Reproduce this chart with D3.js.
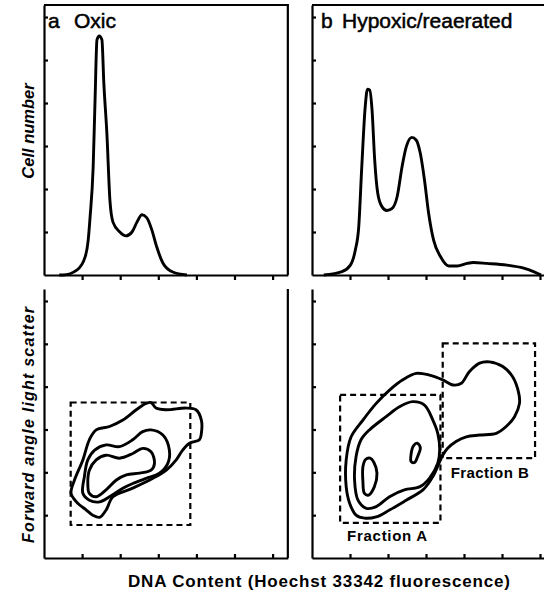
<!DOCTYPE html>
<html>
<head>
<meta charset="utf-8">
<script src="https://cdn.jsdelivr.net/npm/d3@7"></script>
<style>
  body { margin: 0; background: #fff; }
  svg { display: block; background: #fff; }
  .axis path, .axis line { stroke: #000; stroke-width: 2.2; }
  .frame { stroke: #000; stroke-width: 2.2; fill: none; }
  .curve { fill: none; stroke: #000; stroke-width: 2.9; stroke-linejoin: round; }
  .box { fill: none; stroke: #000; stroke-width: 2.2; stroke-dasharray: 6 4; }
  .title { stroke: #000; stroke-width: 0.5; }
  text { font-family: "Liberation Sans", Arial, sans-serif; fill: #000; }
</style>
</head>
<body>
<svg id="chart"></svg>
<script>
/* ------------ DATA --------------------------------------------------- */
const tickVals = [1, 2, 3, 4, 5, 6];
const panelLetters = ['a', 'b'];
const panelNames = ['Oxic', 'Hypoxic/reaerated'];
const yTitles = ['Cell number', 'Forward angle light scatter'];
const xTitle = 'DNA Content (Hoechst 33342 fluorescence)';
const fractionLabels = ['Fraction A', 'Fraction B'];

// histograms: [DNA content, cell number]
const histOxic = [
  [0.40, 0], [0.50, 0], [0.87, 0.12], [1.08, 0.42], [1.16, 0.81], [1.21, 1.35],
  [1.29, 2.51], [1.34, 4.07], [1.39, 5.47], [1.45, 5.56], [1.52, 5.47], [1.57, 4.47],
  [1.65, 3.30], [1.73, 1.74], [1.81, 1.23], [1.99, 1.00], [2.15, 0.91], [2.31, 1.00],
  [2.44, 1.23], [2.57, 1.40], [2.70, 1.33], [2.83, 1.05], [2.96, 0.65], [3.12, 0.28],
  [3.38, 0.07], [3.75, 0]
];
const histHypoxic = [
  [0.31, 0], [0.79, 0.08], [1.01, 0.23], [1.14, 0.58], [1.23, 1.12], [1.31, 2.52],
  [1.40, 3.91], [1.46, 4.32], [1.52, 4.30], [1.58, 3.84], [1.65, 2.67], [1.73, 1.90],
  [1.84, 1.59], [1.97, 1.50], [2.11, 1.55], [2.24, 1.82], [2.37, 2.52], [2.48, 2.98],
  [2.63, 3.20], [2.74, 3.14], [2.85, 2.83], [2.96, 2.21], [3.07, 1.43], [3.20, 0.81],
  [3.38, 0.43], [3.60, 0.21], [3.82, 0.21], [4.08, 0.27], [4.25, 0.29], [4.60, 0.27],
  [5.13, 0.23], [5.57, 0.16], [5.83, 0.08], [6.03, 0]
];

// contours: [DNA content, light scatter]
const oxicOuter = [
  [0.71, 1.51], [0.80, 1.82], [1.02, 2.29], [1.19, 2.76], [1.37, 2.99], [1.72, 3.07],
  [2.07, 3.22], [2.42, 3.46], [2.68, 3.61], [2.81, 3.63], [2.94, 3.50], [3.21, 3.46],
  [3.73, 3.50], [3.99, 3.46], [4.13, 3.22], [4.13, 2.91], [4.08, 2.76], [3.82, 2.68],
  [3.64, 2.52], [3.47, 2.29], [3.21, 2.05], [2.86, 1.86], [2.33, 1.63], [1.81, 1.43],
  [1.63, 1.12], [1.46, 0.95], [1.28, 1.00], [1.11, 1.12], [0.85, 1.31]
];
const oxicMiddle = [
  [1.02, 1.51], [1.06, 1.90], [1.15, 2.29], [1.33, 2.52], [1.63, 2.64], [1.98, 2.60],
  [2.33, 2.76], [2.59, 2.95], [2.81, 2.99], [3.12, 2.87], [3.29, 2.52], [3.25, 2.21],
  [3.03, 1.98], [2.68, 1.86], [2.33, 1.74], [2.07, 1.63], [1.72, 1.43], [1.46, 1.31],
  [1.19, 1.35]
];
const oxicInner = [
  [1.15, 1.74], [1.19, 2.05], [1.37, 2.29], [1.63, 2.40], [1.98, 2.33], [2.33, 2.44],
  [2.59, 2.56], [2.81, 2.48], [2.90, 2.21], [2.81, 2.05], [2.51, 1.98], [2.16, 1.94],
  [1.90, 1.82], [1.63, 1.59], [1.37, 1.43], [1.19, 1.51]
];
const hypoxicOuter = [
  [0.90, 1.66], [0.90, 2.29], [1.03, 2.83], [1.34, 3.22], [1.69, 3.61], [2.04, 3.92],
  [2.39, 4.16], [2.74, 4.31], [3.09, 4.27], [3.44, 4.16], [3.71, 4.04], [3.93, 4.08],
  [4.14, 4.35], [4.41, 4.55], [4.67, 4.58], [5.02, 4.47], [5.28, 4.23], [5.44, 3.85],
  [5.46, 3.61], [5.33, 3.30], [5.11, 3.07], [4.85, 2.91], [4.41, 2.87], [4.06, 2.83],
  [3.79, 2.72], [3.57, 2.56], [3.44, 2.40], [3.36, 2.25], [3.18, 1.90], [2.92, 1.59],
  [2.48, 1.35], [2.04, 1.12], [1.69, 0.96], [1.38, 0.93], [1.16, 1.00], [0.99, 1.28]
];
const hypoxicMiddle = [
  [1.12, 1.82], [1.16, 2.37], [1.29, 2.76], [1.51, 2.99], [1.95, 3.30], [2.30, 3.53],
  [2.65, 3.65], [2.96, 3.57], [3.18, 3.22], [3.31, 2.91], [3.36, 2.52], [3.31, 2.21],
  [3.09, 1.86], [2.83, 1.66], [2.43, 1.59], [2.04, 1.43], [1.69, 1.20], [1.43, 1.16],
  [1.21, 1.35]
];
const hypoxicInner1 = [
  [1.34, 2.13], [1.41, 2.30], [1.53, 2.33], [1.63, 2.23], [1.71, 1.98], [1.64, 1.66],
  [1.49, 1.47], [1.38, 1.51], [1.34, 1.78]
];
const hypoxicInner2 = [
  [2.61, 2.44], [2.67, 2.62], [2.77, 2.68], [2.85, 2.58], [2.78, 2.37], [2.70, 2.23],
  [2.61, 2.25]
];

// gates: [x0, x1, y0, y1]
const gateOxic = [0.70, 3.84, 0.77, 3.63];
const gateFracA = [0.74, 3.38, 0.82, 3.81];
const gateFracB = [3.44, 5.87, 2.33, 5.01];

/* ------------ SVG ---------------------------------------------------- */
const W = 544, H = 593;
const svg = d3.select('#chart').attr('width', W).attr('height', H);

/* ------------ SCALES ------------------------------------------------- */
const xA = d3.scaleLinear().domain([0, 6.4]).range([44, 44 + 6.4 * 38.1]);
const xB = d3.scaleLinear().domain([0, (W - 312) / 38]).range([312, W]);
const yTop = d3.scaleLinear().domain([0, 6.28]).range([275, 5]);
const yLow = d3.scaleLinear().domain([0, 6.28]).range([558, 289]);

const histLine = (x, y) => d3.line().x(d => x(d[0])).y(d => y(d[1])).curve(d3.curveMonotoneX);
const ring = (x, y) => d3.line().x(d => x(d[0])).y(d => y(d[1])).curve(d3.curveCatmullRomClosed.alpha(0.5));

/* ------------ AXES --------------------------------------------------- */
function axes(x, y, top) {
  svg.append('g').attr('class', 'axis')
    .attr('transform', `translate(${x.range()[0]},0)`)
    .call(d3.axisLeft(y).tickValues(tickVals).tickSize(-4).tickSizeOuter(0).tickFormat(''));
  svg.append('g').attr('class', 'axis')
    .attr('transform', `translate(0,${y.range()[0]})`)
    .call(d3.axisBottom(x).tickValues(tickVals).tickSize(top ? 5 : -4).tickSizeOuter(0).tickFormat(''));
}

axes(xA, yTop, true);
axes(xB, yTop, true);
axes(xA, yLow, false);
axes(xB, yLow, false);

// frame lines
svg.append('path').attr('class', 'frame')
  .attr('d', `M${xA.range()[0]},${yTop.range()[1]}H${xA.range()[1]}V${yTop.range()[0]}`);
svg.append('path').attr('class', 'frame')
  .attr('d', `M${xB.range()[0]},${yTop.range()[1]}H${W}`);
svg.append('path').attr('class', 'frame')
  .attr('d', `M${xA.range()[1]},${yLow.range()[1]}V${yLow.range()[0]}`);

/* ------------ HISTOGRAMS --------------------------------------------- */
svg.append('path').attr('class', 'curve').attr('d', histLine(xA, yTop)(histOxic));
svg.append('path').attr('class', 'curve').attr('d', histLine(xB, yTop)(histHypoxic));

/* ------------ CONTOURS ----------------------------------------------- */
[oxicOuter, oxicMiddle, oxicInner].forEach(c =>
  svg.append('path').attr('class', 'curve').attr('d', ring(xA, yLow)(c)));
[hypoxicOuter, hypoxicMiddle, hypoxicInner1, hypoxicInner2].forEach(c =>
  svg.append('path').attr('class', 'curve').attr('d', ring(xB, yLow)(c)));

const gate = (x, g) => svg.append('rect').attr('class', 'box')
  .attr('x', x(g[0])).attr('y', yLow(g[3]))
  .attr('width', x(g[1]) - x(g[0])).attr('height', yLow(g[2]) - yLow(g[3]));

gate(xA, gateOxic);
gate(xB, gateFracA);
gate(xB, gateFracB);

svg.append('text').attr('x', xB(gateFracA[0]) + 7).attr('y', yLow(gateFracA[2]) + 18)
  .attr('font-size', 15).attr('font-weight', 'bold')
  .attr('textLength', 80).attr('lengthAdjust', 'spacing').text(fractionLabels[0]);
svg.append('text').attr('x', xB(gateFracB[0]) + 8).attr('y', yLow(gateFracB[2]) + 20)
  .attr('font-size', 15).attr('font-weight', 'bold')
  .attr('textLength', 78).attr('lengthAdjust', 'spacing').text(fractionLabels[1]);

/* ------------ LABELS ------------------------------------------------- */
[[48, 74], [321, 342]].forEach(([lx, nx], i) => {
  svg.append('text').attr('class', 'title').attr('x', lx).attr('y', 28).attr('font-size', 21).text(panelLetters[i]);
  svg.append('text').attr('class', 'title').attr('x', nx).attr('y', 28).attr('font-size', 21).text(panelNames[i]);
});

svg.append('text')
  .attr('transform', 'translate(34,131) rotate(-90)')
  .attr('text-anchor', 'middle').attr('font-size', 16.5)
  .attr('font-weight', 'bold').attr('font-style', 'italic')
  .text(yTitles[0]);

svg.append('text')
  .attr('transform', 'translate(34,425) rotate(-90)')
  .attr('text-anchor', 'middle').attr('font-size', 16)
  .attr('font-weight', 'bold').attr('font-style', 'italic')
  .attr('textLength', 236).attr('lengthAdjust', 'spacing')
  .text(yTitles[1]);

svg.append('text')
  .attr('x', 128).attr('y', 587).attr('font-size', 17).attr('font-weight', 'bold')
  .attr('textLength', 382).attr('lengthAdjust', 'spacing')
  .text(xTitle);
</script>
</body>
</html>
